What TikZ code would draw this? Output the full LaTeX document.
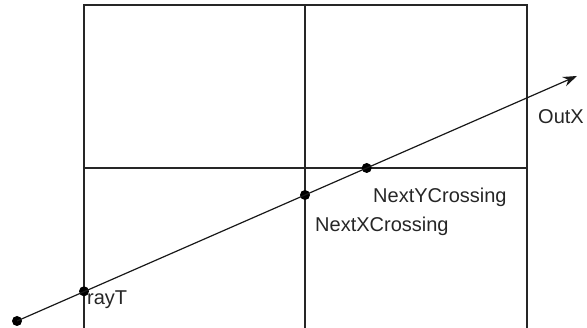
\documentclass[tikz,border=0pt]{standalone}
\usepackage{fontspec}
\setmainfont{Liberation Sans}
\usetikzlibrary{arrows.meta}
\begin{document}
\begin{tikzpicture}[x=1pt,y=1pt,
  gridline/.style={line width=1.7pt,draw=black!85},
  rayline/.style={line width=1.2pt,draw=black!90},
  dot/.style={circle,fill=black,inner sep=0pt,minimum size=10pt},
  lbl/.style={font=\fontsize{20}{23}\selectfont,text=black!85,inner sep=0pt,anchor=base west}]
\useasboundingbox (0,0) rectangle (587,328);
% cell grid (open at the bottom)
\draw[gridline] (84,0) -- (84,323) -- (527,323) -- (527,0);
\draw[gridline] (305,0) -- (305,323);
\draw[gridline] (84,160) -- (527,160);
% ray and its marked points
\node[dot] (start) at (17,7) {};
\node[dot] (rayT) at (84,36.7) {};
\node[dot] (nx) at (305,133) {};
\node[dot] (ny) at (366.7,160) {};
\coordinate (tip) at (577,252);
\draw[rayline,-{Stealth[length=14pt,width=10pt]}] (start.center) -- (tip);
% labels
\node[lbl] (lrayT) at (87,23) {rayT};
\node[lbl] (lny) at (373,125) {NextYCrossing};
\node[lbl] (lnx) at (315,96) {NextXCrossing};
\node[lbl] (lout) at (538,204) {OutX};
\end{tikzpicture}
\end{document}
